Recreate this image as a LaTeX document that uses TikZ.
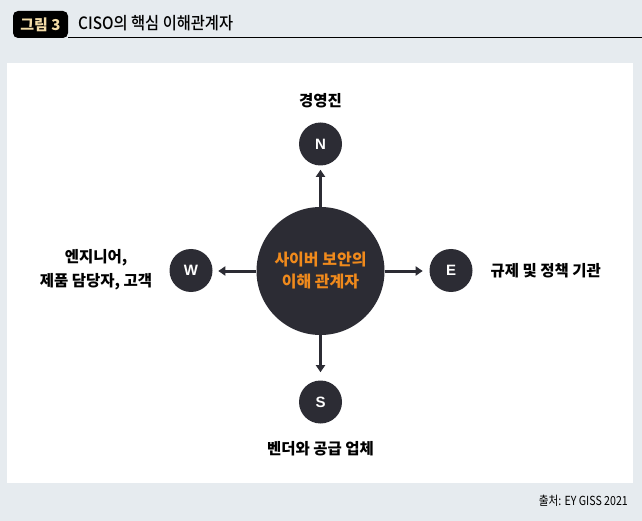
\documentclass[tikz,border=0pt]{standalone}
\usepackage{fontspec}
\setmainfont{Liberation Sans}
\newfontfamily\kr{Noto Sans CJK KR}
\newfontfamily\krm{Noto Sans CJK KR Medium}
\usetikzlibrary{arrows.meta}
\definecolor{bg}{HTML}{E6EBEF}
\definecolor{dark}{HTML}{2C2C34}
\definecolor{orng}{HTML}{F08A1C}
\definecolor{tabtxt}{HTML}{F3DCA8}
\tikzset{
  small/.style={circle,fill=dark,minimum size=43pt,inner sep=0pt,text=white,font=\fontsize{15}{15}\selectfont\bfseries},
  lbl/.style={font=\kr\fontsize{15.5}{24}\selectfont\bfseries,text=black,align=center},
  arr/.style={draw=dark,line width=3pt,-{Triangle[length=7pt,width=9pt]}}
}
\begin{document}
\begin{tikzpicture}[x=1pt,y=-1pt]
\fill[bg] (0,0) rectangle (642,521);
\useasboundingbox (0,0) rectangle (642,521);
\fill[white] (7,63) rectangle (633,483);
% header
\fill[black,rounded corners=5pt] (13,11) rectangle (68,38);
\node[text=tabtxt,font=\kr\fontsize{15}{15}\selectfont\bfseries] (tab) at (40.5,24.5) {그림 3};
\draw[black,line width=1pt] (68,37.5) -- (642,37.5);
\node[anchor=west,font=\krm\fontsize{17}{17}\selectfont,inner sep=0pt] (title) at (78,23.5) {\scalebox{0.9}[1]{CISO의 핵심 이해관계자}};
% center
\node[circle,fill=dark,minimum size=128pt,inner sep=0pt,text=orng,align=center,font=\kr\fontsize{16}{22}\selectfont\bfseries] (c) at (320.5,271) {사이버 보안의\\이해 관계자};
\node[small] (n) at (320.5,144) {N};
\node[small] (w) at (191,270.5) {W};
\node[small] (e) at (451,270.5) {E};
\node[small] (s) at (320.5,402) {S};
\draw[arr] (c.north) -- ++(0,-37);
\draw[arr] (c.south) -- ++(0,37);
\draw[arr] (c.west) -- ++(-38,0);
\draw[arr] (c.east) -- ++(38,0);
% labels
\node[lbl] (ln) at (320.5,101) {경영진};
\node[lbl] (lw) at (96,270) {엔지니어,\\제품 담당자, 고객};
\node[lbl,anchor=west] (le) at (487,270.5) {규제 및 정책 기관};
\node[lbl] (ls) at (320.5,449) {벤더와 공급 업체};
\node[anchor=east,font=\kr\fontsize{12.5}{12.5}\selectfont,inner sep=0pt] (src) at (628,501) {\scalebox{0.85}[1]{출처: EY GISS 2021}};
\end{tikzpicture}
\end{document}
